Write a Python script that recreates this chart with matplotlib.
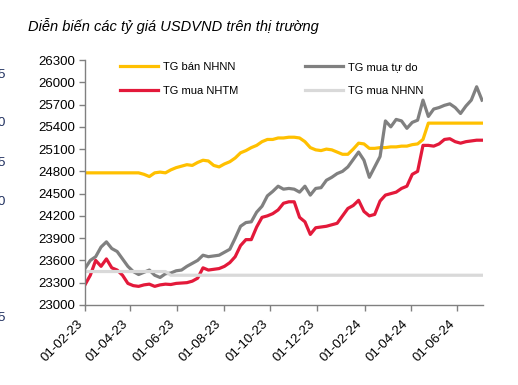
import numpy as np
import pandas as pd
import matplotlib
matplotlib.use("Agg")
import matplotlib.pyplot as plt
import matplotlib.dates as mdates

# weekly readings, 01-02-2023 .. 03-07-2024
dates = pd.date_range("2023-02-01", periods=75, freq="7D")

ban_nhnn = [24780] * 11 + [
    24760, 24730, 24780, 24790, 24780, 24820, 24850, 24870, 24890, 24880,
    24920, 24950, 24940, 24880, 24860, 24900, 24930, 24980, 25050, 25080,
    25120, 25150, 25200, 25230, 25230, 25250, 25250, 25260, 25260, 25250,
    25200, 25120, 25090, 25080, 25100, 25090, 25060, 25030, 25030, 25100,
    25180, 25170, 25110, 25110, 25120, 25120, 25130, 25130, 25140, 25140,
    25160, 25170, 25230] + [25450] * 11

mua_tu_do = [
    23490, 23600, 23650, 23780, 23850, 23760, 23720, 23620, 23520, 23450,
    23410, 23440, 23470, 23400, 23370, 23420, 23430, 23460, 23470, 23520,
    23560, 23600, 23670, 23650, 23660, 23670, 23710, 23750, 23900, 24060,
    24110, 24120, 24250, 24330, 24470, 24530, 24600, 24560, 24570, 24560,
    24520, 24600, 24480, 24570, 24580, 24680, 24720, 24770, 24800, 24860,
    24960, 25060, 24950, 24720, 24860, 25000, 25480, 25400, 25500, 25480,
    25380, 25460, 25490, 25760, 25540, 25640, 25660, 25690, 25710, 25660,
    25580, 25680, 25760, 25940, 25760]

mua_nhtm = [
    23270, 23400, 23600, 23520, 23620, 23500, 23470, 23400, 23290, 23260,
    23250, 23270, 23280, 23250, 23270, 23280, 23275, 23290, 23295, 23300,
    23320, 23360, 23500, 23470, 23480, 23490, 23520, 23570, 23650, 23800,
    23880, 23880, 24050, 24180, 24200, 24230, 24280, 24370, 24390, 24390,
    24180, 24120, 23950, 24040, 24050, 24060, 24080, 24100, 24200, 24300,
    24340, 24410, 24260, 24200, 24220, 24400, 24480, 24500, 24520, 24570,
    24600, 24760, 24800, 25150, 25150, 25140, 25170, 25230, 25240, 25200,
    25180, 25200, 25210, 25220, 25220]

mua_nhnn = [23450] * 16 + [23400] * 59

labels = ["TG bán NHNN", "TG mua NHTM", "TG mua tự do", "TG mua NHNN"]
colors = {"ban": "#FFC000", "tudo": "#808080", "nhtm": "#E3193A", "nhnn": "#D9D9D9"}

yticks = np.arange(23000, 26301, 300)
xticks = pd.to_datetime(["2023-02-01", "2023-04-01", "2023-06-01", "2023-08-01",
                         "2023-10-01", "2023-12-01", "2024-02-01", "2024-04-01",
                         "2024-06-01"])

plt.rcParams["font.family"] = ["Liberation Sans", "DejaVu Sans"]

fig = plt.figure(figsize=(5.18, 3.85), dpi=100)
ax = fig.add_axes([0.164, 0.208, 0.768, 0.636])

lw = 2.3
h_ban, = ax.plot(dates, ban_nhnn, color=colors["ban"], lw=lw)
h_tudo, = ax.plot(dates, mua_tu_do, color=colors["tudo"], lw=lw)
h_nhtm, = ax.plot(dates, mua_nhtm, color=colors["nhtm"], lw=lw)
h_nhnn, = ax.plot(dates, mua_nhnn, color=colors["nhnn"], lw=lw)

ax.set_xlim(pd.Timestamp("2023-02-01"), pd.Timestamp("2024-07-04"))
ax.set_ylim(23000, 26300)
ax.set_yticks(yticks)
ax.set_xticks(xticks)
ax.xaxis.set_major_formatter(mdates.DateFormatter("%d-%m-%y"))

for s in ["top", "right"]:
    ax.spines[s].set_visible(False)
for s in ["left", "bottom"]:
    ax.spines[s].set_color("#808080")
    ax.spines[s].set_linewidth(1.0)

ax.tick_params(axis="both", colors="#808080", labelcolor="black", length=4,
               width=1.0, labelsize=9.5)
ax.tick_params(axis="y", pad=3)
ax.tick_params(axis="x", pad=5)
for lab in ax.get_xticklabels():
    lab.set_rotation(45)
    lab.set_ha("right")

fig.legend([h_ban, h_nhtm, h_tudo, h_nhnn], labels, ncol=2, frameon=False,
           loc="upper left", bbox_to_anchor=(0.232, 0.838), borderpad=0,
           borderaxespad=0, handlelength=3.4, handletextpad=0.45,
           columnspacing=6.0, labelspacing=1.2, fontsize=8)

fig.text(0.054, 0.952, "Diễn biến các tỷ giá USDVND trên thị trường",
         style="italic", fontsize=10.5, va="top", ha="left")

# cut-off labels of a neighbouring chart at the left edge
for ypx, t in [(75, "5"), (123, "0"), (163, "5"), (202, "0"), (318, "5")]:
    fig.text(5 / 518, 1 - ypx / 385, t, ha="right", va="center",
             fontsize=9.5, color="#1F2F5F")

fig.savefig("out.png", dpi=100)
